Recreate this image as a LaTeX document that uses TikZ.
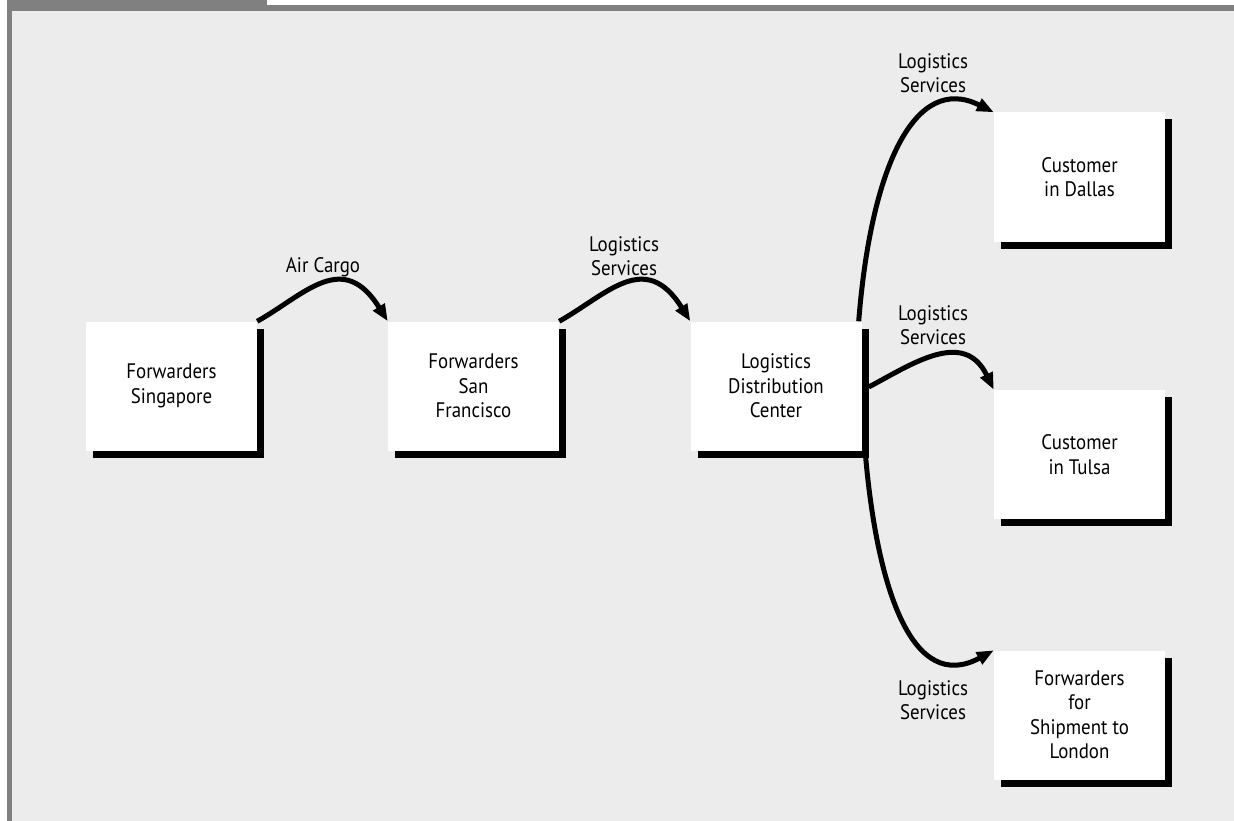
\documentclass[tikz,border=0pt]{standalone}
\usepackage{fontspec}
\setmainfont{PT Sans}[FakeStretch=0.9]
\usetikzlibrary{arrows.meta,shadows,calc}
\definecolor{framegray}{HTML}{808080}
\definecolor{bggray}{HTML}{ECECEC}
\begin{document}
\begin{tikzpicture}[x=1pt,y=-1pt,
 box/.style={fill=white, minimum width=171pt, minimum height=129pt, inner sep=0pt, align=center,
   font=\fontsize{21}{24.5}\selectfont,
   drop shadow={shadow xshift=7pt, shadow yshift=-7pt, fill=black, opacity=1}},
 flow/.style={line width=5pt, -{Triangle[length=17pt,width=13pt]}},
 lbl/.style={align=center, font=\fontsize{21}{24}\selectfont, inner sep=0pt}]
\useasboundingbox (0,0) rectangle (1234,821);
% frame
\fill[white] (0,0) rectangle (1234,821);
\fill[framegray] (7,0) rectangle (267,11);
\fill[framegray] (267,5) rectangle (1234,11);
\fill[framegray] (7,0) rectangle (12,821);
\fill[bggray] (12,11) rectangle (1234,821);
% boxes
\node[box] (b1) at (171.5,386) {Forwarders\\Singapore};
\node[box] (b2) at (473.5,386) {Forwarders\\San\\Francisco};
\node[box] (b3) at (776,386) {Logistics\\Distribution\\Center};
\node[box] (b4) at (1079.5,177) {Customer\\in Dallas};
\node[box] (b5) at (1079.5,454.5) {Customer\\in Tulsa};
\node[box] (b6) at (1079.5,715) {Forwarders\\for\\Shipment to\\London};
% connectors
\draw[flow] (b1.north east) .. controls +(48,-27) and +(-45,-72) .. (b2.north west);
\draw[flow] (b2.north east) .. controls +(48,-27) and +(-45,-72) .. (b3.north west);
\draw[flow] ($(b3.north east)+(-3,0)$) .. controls +(12,-152) and +(-80,-40) .. (b4.north west);
\draw[flow] ($(b3.east)+(7,1)$) .. controls +(42,-22) and +(-30,-62) .. (b5.north west);
\draw[flow] ($(b3.south east)+(4,7)$) .. controls +(12,133) and +(-81,44) .. (b6.north west);
% labels
\node[lbl] (l1) at (323,267) {Air Cargo};
\node[lbl] (l2) at (624,256) {Logistics\\Services};
\node[lbl] (l3) at (933,73) {Logistics\\Services};
\node[lbl] (l4) at (933,325) {Logistics\\Services};
\node[lbl] (l5) at (933,700) {Logistics\\Services};
\end{tikzpicture}
\end{document}
